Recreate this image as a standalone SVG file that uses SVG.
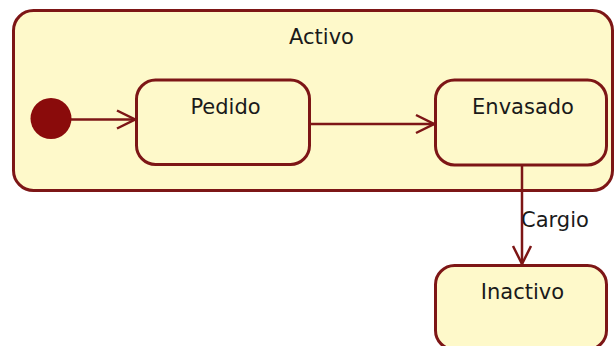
<svg xmlns="http://www.w3.org/2000/svg" width="615" height="346" viewBox="0 0 615 346">
  <defs>
    <style>
      .state { fill: #fef9ca; stroke: #7d1616; stroke-width: 3; }
      .label { font-family: "DejaVu Sans", Verdana, sans-serif; font-size: 21px; fill: #1a1a1a; }
      .edge { fill: none; stroke: #7d1616; stroke-width: 2.5; }
    </style>
    <marker id="open-arrow" viewBox="0 0 22 22" refX="20" refY="11" markerWidth="22" markerHeight="22" markerUnits="userSpaceOnUse" orient="auto">
      <path d="M2 2 L20 11 L2 20" fill="none" stroke="#7d1616" stroke-width="2.5"/>
    </marker>
  </defs>

  <rect width="615" height="346" fill="#ffffff"/>

  <!-- composite state -->
  <g id="activo">
    <rect class="state" x="13.5" y="10.5" width="599" height="180" rx="20" ry="20"/>
    <text class="label" x="321.5" y="44" text-anchor="middle">Activo</text>
  </g>

  <!-- initial pseudo-state -->
  <g id="inicio">
    <circle cx="51" cy="118.5" r="20.5" fill="#8a0b0b"/>
  </g>

  <g id="pedido">
    <rect class="state" x="136.5" y="80" width="173" height="84.5" rx="19" ry="19"/>
    <text class="label" x="225.5" y="114" text-anchor="middle">Pedido</text>
  </g>

  <g id="envasado">
    <rect class="state" x="435.5" y="80" width="171" height="85" rx="19" ry="19"/>
    <text class="label" x="523" y="114" text-anchor="middle">Envasado</text>
  </g>

  <g id="inactivo">
    <rect class="state" x="435.5" y="265.5" width="171" height="84" rx="19" ry="19"/>
    <text class="label" x="522.5" y="299" text-anchor="middle">Inactivo</text>
  </g>

  <!-- transitions -->
  <g id="connectors">
    <line class="edge" x1="71" y1="119.5" x2="135" y2="119.5" marker-end="url(#open-arrow)"/>
    <line class="edge" x1="311" y1="124" x2="434" y2="124" marker-end="url(#open-arrow)"/>
    <line class="edge" x1="522" y1="166" x2="522" y2="264" marker-end="url(#open-arrow)"/>
    <text class="label" x="521" y="227">Cargio</text>
  </g>
</svg>
